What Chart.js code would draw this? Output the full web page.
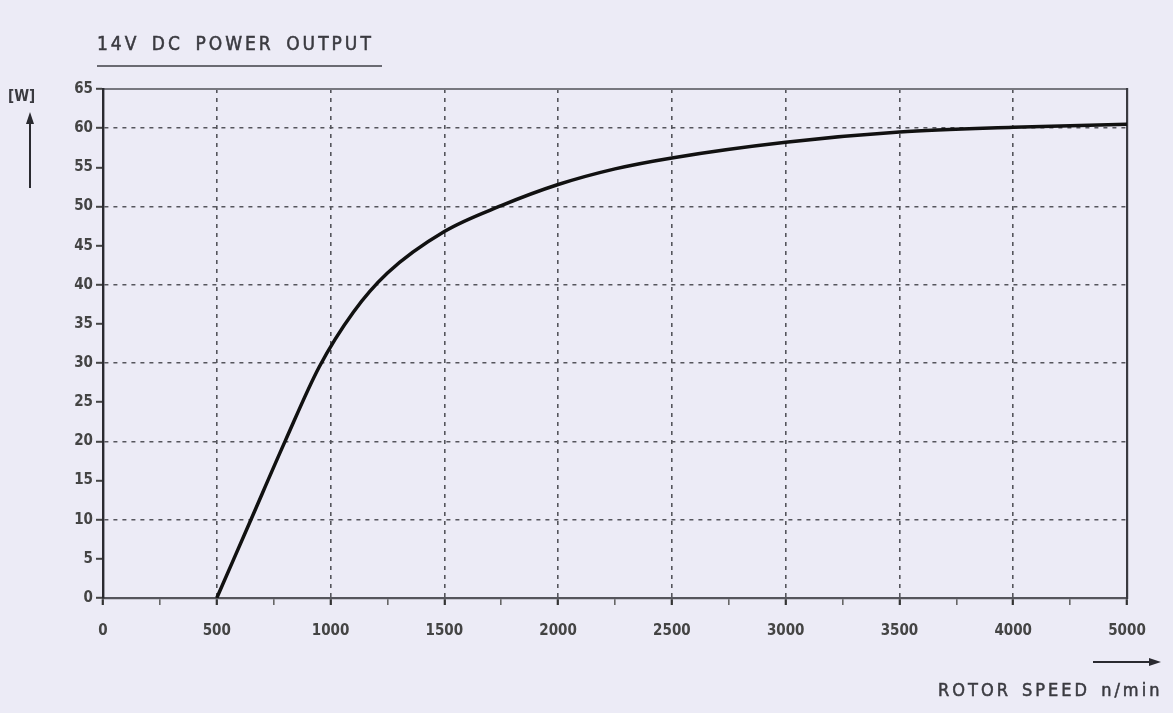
<!DOCTYPE html>
<html>
<head>
<meta charset="utf-8">
<script src="https://cdn.jsdelivr.net/npm/chart.js@4/dist/chart.umd.min.js"></script>
<style>
  html, body { margin: 0; padding: 0; background: #ecebf6; }
  #wrap { position: relative; width: 1173px; height: 713px; overflow: hidden; }
  #chart { position: absolute; left: 0; top: 0; }
  .txt { position: absolute; font-family: "DejaVu Sans Condensed", "DejaVu Sans", sans-serif; color: #3a3a40; font-weight: bold; white-space: nowrap; }
  #title { left: 97px; top: 32px; font-size: 19px; letter-spacing: 3px; word-spacing: 4px; font-weight: normal; -webkit-text-stroke: 0.5px #3a3a40; }
  #titleLine { position: absolute; left: 97px; top: 65px; width: 285px; height: 2px; background: #6a6a72; }
  #unit { left: 8px; top: 87px; font-size: 15px; }
  #xname { left: 938px; top: 679px; font-size: 18px; letter-spacing: 3px; word-spacing: 3px; font-weight: normal; -webkit-text-stroke: 0.5px #3a3a40; }
  svg { position: absolute; left: 0; top: 0; }
</style>
</head>
<body>
<div id="wrap">
  <canvas id="chart" width="1173" height="713"></canvas>
  <div class="txt" id="title">14V DC POWER OUTPUT</div>
  <div id="titleLine"></div>
  <div class="txt" id="unit">[W]</div>
  <div class="txt" id="xname">ROTOR SPEED n/min</div>
  <svg width="1173" height="713">
    <line x1="30" y1="188" x2="30" y2="122" stroke="#2a2a30" stroke-width="2"/>
    <polygon points="30,112 26,124 34,124" fill="#2a2a30"/>
    <line x1="1093" y1="662" x2="1150" y2="662" stroke="#2a2a30" stroke-width="2"/>
    <polygon points="1161,662 1149,658 1149,666" fill="#2a2a30"/>
  </svg>
</div>
<script>
// Werte (x = Lage im Raster, letztes Feld ist mit 5000 beschriftet)
const speed = [500, 650, 800, 950, 1100, 1250, 1500, 1750, 2000, 2250, 2500, 3000, 3500, 4000, 4500];
const power = [0, 10, 20, 29.5, 36.5, 41.5, 46.8, 50.1, 52.8, 54.8, 56.2, 58.2, 59.5, 60.1, 60.5];

// Beschriftung der x-Achse wie gedruckt (4500 fehlt, das letzte Feld heißt 5000)
const xTickLabels = ["0", "500", "1000", "1500", "2000", "2500", "3000", "3500", "4000", "5000"];
const yTickLabels = ["0", "5", "10", "15", "20", "25", "30", "35", "40", "45", "50", "55", "60", "65"];

const points = speed.map((s, i) => ({ x: s, y: power[i] }));
const tickFont = { family: '"DejaVu Sans Condensed", "DejaVu Sans", sans-serif', size: 15, weight: "bold" };
const gridDark = "#55555c";

new Chart(document.getElementById("chart"), {
  type: "line",
  data: {
    datasets: [{
      data: points,
      borderColor: "#111",
      borderWidth: 3.5,
      pointRadius: 0,
      cubicInterpolationMode: "monotone",
      fill: false
    }]
  },
  options: {
    responsive: false,
    animation: false,
    layout: { padding: { left: 0, top: 89, right: 46, bottom: 0 } },
    plugins: { legend: { display: false }, tooltip: { enabled: false } },
    scales: {
      x: {
        type: "linear",
        min: 0, max: 4500,
        afterFit: s => { s.height = 115; },
        ticks: {
          stepSize: 250, autoSkip: false, maxRotation: 0,
          padding: 17, color: "#444", font: tickFont,
          callback: v => (v % 500 === 0 ? xTickLabels[v / 500] : "")
        },
        grid: {
          color: c => (c.tick && c.tick.value % 500 === 0 && c.tick.value > 0 && c.tick.value < 4500 ? gridDark : "transparent"),
          lineWidth: 1.6,
          tickLength: 7,
          tickColor: c => (c.tick && c.tick.value % 500 === 0 ? "#333" : "#666"),
          tickWidth: c => (c.tick && c.tick.value % 500 === 0 ? 2.2 : 1.6)
        },
        border: { display: true, color: "#55555c", width: 2.2, dash: [4, 5] }
      },
      xTop: {
        type: "linear", position: "top", min: 0, max: 4500,
        afterFit: s => { s.height = 0; },
        ticks: { display: false },
        grid: { display: false },
        border: { display: true, color: "#77777f", width: 2 }
      },
      y: {
        min: 0, max: 65,
        afterFit: s => { s.width = 103; },
        ticks: {
          stepSize: 5, padding: 3, color: "#444", font: tickFont,
          callback: v => yTickLabels[v / 5]
        },
        grid: {
          color: c => (c.tick && c.tick.value % 10 === 0 && c.tick.value > 0 ? gridDark : "transparent"),
          lineWidth: 1.6,
          tickLength: 7,
          tickColor: "#444",
          tickWidth: 2
        },
        border: { display: true, color: "#2a2a30", width: 2.4, dash: [4, 5] }
      },
      yRight: {
        position: "right", min: 0, max: 65,
        afterFit: s => { s.width = 0; },
        ticks: { display: false },
        grid: { display: false },
        border: { display: true, color: "#3a3a40", width: 2.2 }
      }
    }
  }
});
</script>
</body>
</html>
